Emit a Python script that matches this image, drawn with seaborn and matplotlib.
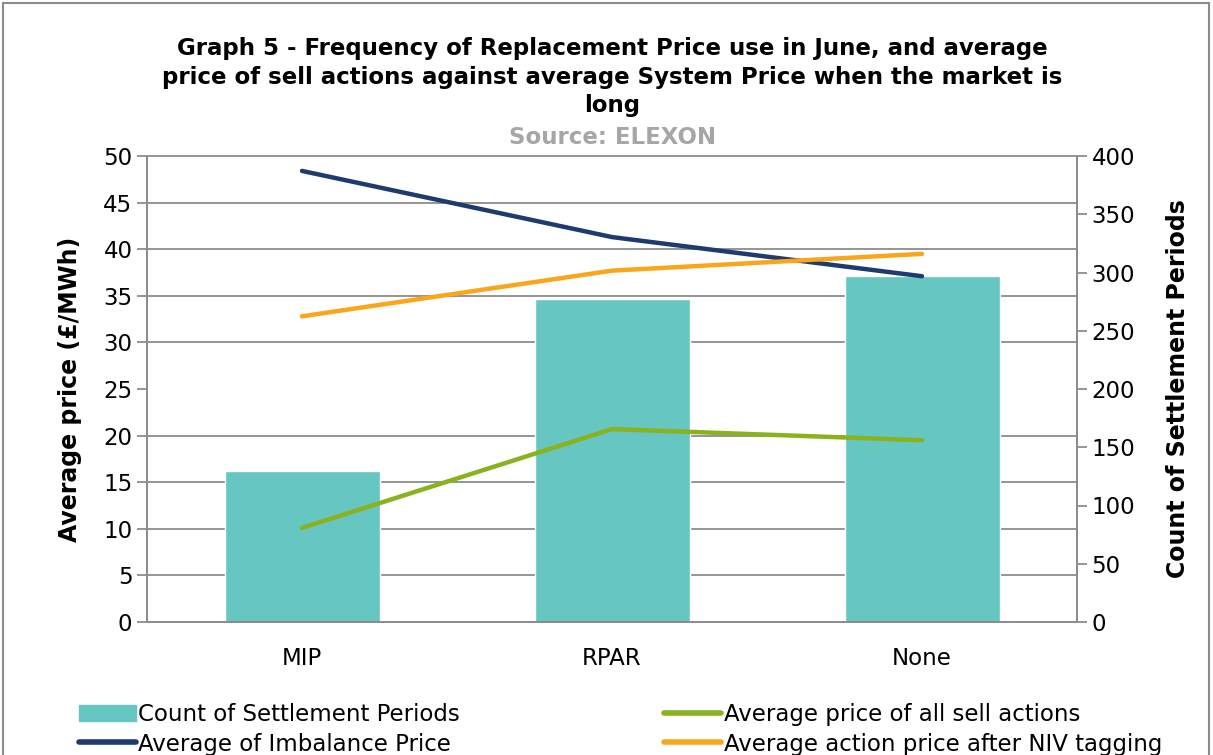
import numpy as np
import pandas as pd
import matplotlib
matplotlib.use("Agg")
import matplotlib.pyplot as plt
from matplotlib.patches import Rectangle
from matplotlib.lines import Line2D
from matplotlib.patches import Patch
import seaborn as sns

# values
categories = ["MIP", "RPAR", "None"]
count_periods = [130, 277, 297]
imbalance_price = [48.4, 41.3, 37.1]
sell_actions = [10.1, 20.7, 19.5]
niv_tagged = [32.8, 37.7, 39.5]

teal = "#66C6C1"
navy = "#1F3A6E"
green = "#8AB21E"
orange = "#F9A61A"
grey = "#8C8C8C"

sns.set_style("white")
plt.rcParams["font.family"] = ["DejaVu Sans"]
plt.rcParams["text.color"] = "black"
plt.rcParams["axes.labelcolor"] = "black"

fig = plt.figure(figsize=(12.13, 7.55), dpi=100)
ax = fig.add_axes([147/1213, 1 - 622/755, (1077-147)/1213, (622-156)/755])
ax2 = ax.twinx()

# bars on the right axis
sns.barplot(x=categories, y=count_periods, ax=ax2, color=teal, width=0.5,
            saturation=1, order=categories)

# lines on the left axis, drawn above the bars
ax.set_zorder(ax2.get_zorder() + 1)
ax.patch.set_visible(False)
lines = pd.DataFrame({"pos": np.arange(len(categories)),
                      "imb": imbalance_price, "sell": sell_actions, "niv": niv_tagged})
for col, c in [("imb", navy), ("niv", orange), ("sell", green)]:
    sns.lineplot(data=lines, x="pos", y=col, ax=ax, color=c, lw=3.2,
                 solid_capstyle="round")

ax.set_xlim(-0.5, len(categories) - 0.5)
ax.set_ylim(0, 50)
ax2.set_ylim(0, 400)
ax.set_yticks(np.arange(0, 51, 5))
ax2.set_yticks(np.arange(0, 401, 50))
# gridlines follow the left axis but sit behind the bars
ax2.set_yticks(np.arange(0, 401, 40), minor=True)
ax2.grid(True, which="minor", axis="y", color=grey, lw=1.3)
ax2.grid(False, which="major")
ax.grid(False)

ax.set_xticks(np.arange(len(categories)))
ax.set_xticklabels(categories)
ax.set_xticks(np.arange(-0.5, len(categories)), minor=True)
ax.tick_params(axis="x", which="major", length=0, labelsize=16.5, pad=18, labelcolor="black")
ax.tick_params(axis="x", which="minor", length=7, width=1.3, color=grey, direction="out")
ax.tick_params(axis="y", length=7, width=1.3, color=grey, labelsize=16.5, left=True,
               labelcolor="black")
ax2.tick_params(axis="y", which="major", length=7, width=1.3, color=grey, labelsize=16.5,
                right=True, labelcolor="black")
ax2.tick_params(axis="y", which="minor", length=0)

for a in (ax, ax2):
    for s in a.spines.values():
        s.set_color(grey)
        s.set_linewidth(1.3)
    a.spines["top"].set_visible(False)
    a.set_xlabel("")
ax2.spines["top"].set_visible(True)

ax.set_ylabel("Average price (£/MWh)", fontsize=17, fontweight="bold", labelpad=15)
ax2.set_ylabel("Count of Settlement Periods", fontsize=17, fontweight="bold", labelpad=22)

fig.text(0.505, 0.898, "Graph 5 - Frequency of Replacement Price use in June, and average\n"
         "price of sell actions against average System Price when the market is\nlong",
         ha="center", va="center", fontsize=16.5, fontweight="bold", linespacing=1.3)
fig.text(0.505, 0.818, "Source: ELEXON", ha="center", va="center", fontsize=16.5,
         fontweight="bold", color="#A6A6A6")

handles = [Patch(color=teal), Line2D([], [], color=navy, lw=4),
           Line2D([], [], color=green, lw=4), Line2D([], [], color=orange, lw=4)]
labels = ["Count of Settlement Periods", "Average of Imbalance Price",
          "Average price of all sell actions", "Average action price after NIV tagging"]
fig.legend(handles, labels, ncol=2, loc="lower left", bbox_to_anchor=(0.048, -0.028),
           frameon=False, fontsize=16.5, handlelength=2.5, handletextpad=0.1,
           columnspacing=8.9, labelspacing=0.3)

fig.patches.append(Rectangle((3/1213, -0.1), (1209-3)/1213, 1.1 - 3/755,
                             transform=fig.transFigure, fill=False,
                             edgecolor="#8C8C8C", lw=1.5))

fig.savefig("out.png", dpi=100)
